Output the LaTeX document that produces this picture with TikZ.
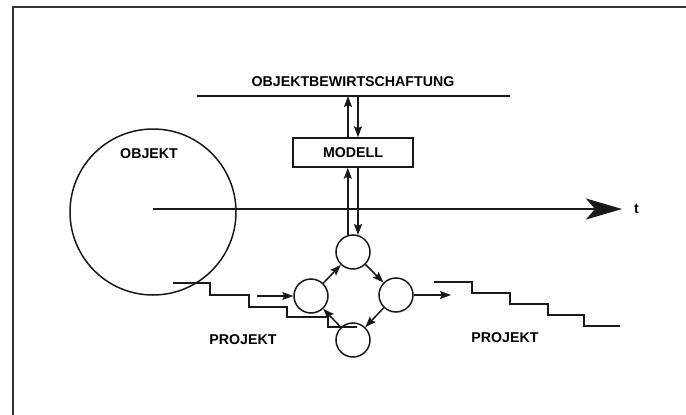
\documentclass[tikz,border=0pt]{standalone}
\usepackage{fontspec}
\setmainfont{Liberation Sans}
\usetikzlibrary{arrows.meta}
\tikzset{
  lbl/.style={font=\bfseries\fontsize{14.2}{16}\selectfont, inner sep=0pt},
  ln/.style={line width=1.5pt, draw=black!90},
  arr/.style={ln, -{Stealth[length=11pt,width=8pt,inset=2pt]}},
  stage/.style={circle, ln, minimum size=34pt, inner sep=0pt},
  modelbox/.style={rectangle, ln, minimum width=120pt, minimum height=29pt, inner sep=0pt},
}
\begin{document}
\begin{tikzpicture}[x=1pt,y=-1pt]
\useasboundingbox (0,0) rectangle (686,415);
% frame
\draw[line width=2pt, draw=black!80] (13,415) -- (13,7) -- (686,7);
% top line
\coordinate (lineL) at (197,96);
\coordinate (lineR) at (510,96);
\draw[ln] (lineL) -- (lineR);
\node[lbl] (obw) at (353,82) {OBJEKTBEWIRTSCHAFTUNG};
% model box
\node[modelbox] (model) at (353,152.5) {\bfseries\fontsize{14.2}{16}\selectfont MODELL};
% object circle
\node[circle, ln, minimum size=166pt, inner sep=0pt] (obj) at (153,212) {};
\node[lbl] (objl) at (149,154) {OBJEKT};
% time axis
\coordinate (t1) at (622,209);
\draw[ln, -{Stealth[length=36pt,width=21pt,inset=9pt]}] (153,209) -- (t1);
\node[lbl, anchor=west] (tl) at (634,209) {t};
% stage circles
\node[stage] (top) at (353,252) {};
\node[stage] (lft) at (311,296) {};
\node[stage] (rgt) at (396,295) {};
\node[stage] (bot) at (353,340) {};
% box <-> line
\draw[arr] ([xshift=-5pt]model.north) -- ([xshift=-5pt]model.north |- lineL);
\draw[arr] ([xshift=5pt]model.north |- lineL) -- ([xshift=5pt]model.north);
% box <-> top circle
\draw[arr] (top.107) -- (top.107 |- model.south);
\draw[arr] ([xshift=5pt]model.south) -- ([xshift=5pt]model.south |- top.73);
% cycle
\draw[arr] (lft) -- (top);
\draw[arr] (top) -- (rgt);
\draw[arr] (rgt) -- (bot);
\draw[arr] (bot) -- (lft);
% in / out
\coordinate (in) at (257,296);
\coordinate (out) at (451,295);
\draw[arr] (in) -- (lft);
\draw[arr] (rgt) -- (out);
% staircases
\coordinate (sL0) at (173,283);
\coordinate (sL1) at (357,327);
\draw[ln] (sL0) -- (210,283) -- (210,295) -- (249,295) -- (249,307) -- (287,307) -- (287,317) -- (328,317) -- (328,327) -- (sL1);
\coordinate (sR0) at (434,282);
\coordinate (sR1) at (620,326);
\draw[ln] (sR0) -- (472,282) -- (472,293) -- (510,293) -- (510,304) -- (548,304) -- (548,315) -- (584,315) -- (584,326) -- (sR1);
% labels
\node[lbl] (p1) at (243,340) {PROJEKT};
\node[lbl] (p2) at (505,338) {PROJEKT};
\end{tikzpicture}
\end{document}
